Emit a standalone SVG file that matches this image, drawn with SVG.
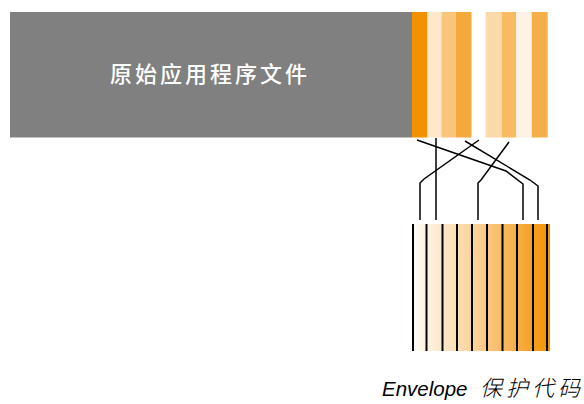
<svg xmlns="http://www.w3.org/2000/svg" width="584" height="404" viewBox="0 0 584 404">
<style>
.ln{fill:none;stroke:#000;stroke-width:1.5;stroke-linejoin:miter}
.vl{stroke:#000;stroke-width:2}
.cjk{font-family:"Noto Sans CJK SC","Liberation Sans",sans-serif}
</style>
<defs>
<linearGradient id="g" x1="0" y1="0" x2="1" y2="0">
<stop offset="0" stop-color="#FFFDF9"/>
<stop offset="0.5" stop-color="#F9CD8F"/>
<stop offset="1" stop-color="#F39200"/>
</linearGradient>
</defs>
<g id="original">
<rect x="10" y="12" width="402" height="125.5" fill="#808080"/>
<text x="110" y="82" class="cjk" font-size="22" font-weight="500" letter-spacing="3" fill="#fff">原始应用程序文件</text>
</g>
<g id="stripes-a">
<rect x="412" y="12" width="15.5" height="125.5" fill="#F39200"/>
<rect x="427.5" y="12" width="14" height="125.5" fill="#FDE8CB"/>
<rect x="441.5" y="12" width="14" height="125.5" fill="#F8C57C"/>
<rect x="455.5" y="12" width="16" height="125.5" fill="#F4A93A"/>
</g>
<g id="stripes-b">
<rect x="485.7" y="12" width="16" height="125.5" fill="#FADAAA"/>
<rect x="501.7" y="12" width="14.6" height="125.5" fill="#F8BB63"/>
<rect x="516.3" y="12" width="15.4" height="125.5" fill="#FDF2E3"/>
<rect x="531.7" y="12" width="16" height="125.5" fill="#F5AF4A"/>
</g>
<g id="connectors">
<polyline class="ln" points="417,140 506,171 523,184 523,220"/>
<polyline class="ln" points="465,141 530,180 538,186 538,220"/>
<polyline class="ln" points="479,140 424,179 420,183 420,220"/>
<polyline class="ln" points="509,142 481,180 478,183 478,220"/>
<line class="ln" x1="436" y1="138" x2="436" y2="220"/>
</g>
<g id="envelope">
<rect x="412" y="224" width="138" height="127" fill="url(#g)"/>
<g class="vl">
<line x1="413" y1="224" x2="413" y2="351"/>
<line x1="426.5" y1="224" x2="426.5" y2="351"/>
<line x1="442.5" y1="224" x2="442.5" y2="351"/>
<line x1="457" y1="224" x2="457" y2="351"/>
<line x1="472" y1="224" x2="472" y2="351"/>
<line x1="487" y1="224" x2="487" y2="351"/>
<line x1="502.5" y1="224" x2="502.5" y2="351"/>
<line x1="517" y1="224" x2="517" y2="351"/>
<line x1="533" y1="224" x2="533" y2="351"/>
<line x1="547" y1="224" x2="547" y2="351"/>
</g>
</g>
<g id="caption">
<text x="382" y="396" font-family="'Liberation Sans','Noto Sans CJK SC',sans-serif" font-size="20.5" font-style="italic" fill="#000">Envelope</text>
<text x="480" y="396" class="cjk" font-size="22" font-weight="300" font-style="italic" letter-spacing="4" fill="#000">保护代码</text>
</g>
</svg>
